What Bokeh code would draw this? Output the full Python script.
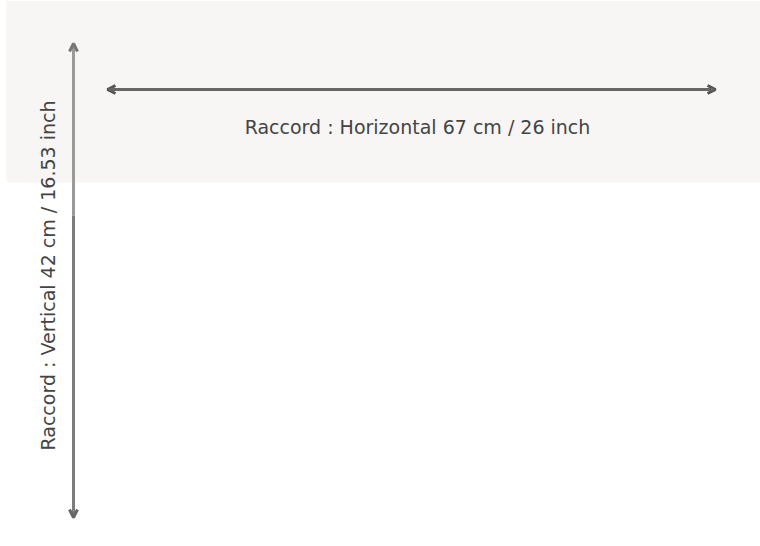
import math
from bokeh.plotting import figure
from bokeh.models import Arrow, OpenHead, Label, Range1d
from bokeh.embed import file_html
from bokeh.resources import INLINE

# Data
labels = ["Raccord : Horizontal 67 cm / 26 inch", "Raccord : Vertical 42 cm / 16.53 inch"]
repeat_cm = [67, 42]
repeat_inch = [26, 16.53]

W, H = 760, 546
p = figure(width=W, height=H, output_backend="svg", toolbar_location=None,
           x_range=Range1d(0, W), y_range=Range1d(H, 0),
           min_border=0, min_border_left=0, min_border_right=0,
           min_border_top=0, min_border_bottom=0)
p.axis.visible = False
p.grid.visible = False
p.outline_line_color = None
p.background_fill_color = "white"
p.border_fill_color = "white"

# light band
p.quad(left=[6], right=[W], top=[0], bottom=[182], fill_color="#f7f6f4", line_color=None)

# horizontal arrow
p.add_layout(Arrow(x_start=107, y_start=89, x_end=715, y_end=89,
                   line_color="#666666", line_width=3,
                   start=OpenHead(size=8, line_color="#555555", line_width=3),
                   end=OpenHead(size=8, line_color="#555555", line_width=3)))
# vertical arrow (two tones)
p.segment(x0=[73], y0=[44], x1=[73], y1=[215], line_color="#9a9a9a", line_width=3)
p.segment(x0=[73], y0=[215], x1=[73], y1=[516], line_color="#7c7c7c", line_width=3)
p.add_layout(Arrow(x_start=73, y_start=60, x_end=73, y_end=43, line_color=None,
                   end=OpenHead(size=8, line_color="#777777", line_width=3)))
p.add_layout(Arrow(x_start=73, y_start=500, x_end=73, y_end=517, line_color=None,
                   end=OpenHead(size=8, line_color="#666666", line_width=3)))

p.add_layout(Label(x=417, y=126, text=labels[0], text_align="center", text_baseline="middle",
                   text_font="DejaVu Sans", text_font_size="19px", text_color="#444444"))
p.add_layout(Label(x=47, y=275, text=labels[1], text_align="center", text_baseline="middle",
                   angle=math.pi / 2, text_font="DejaVu Sans", text_font_size="19px",
                   text_color="#444444"))

open("out.html", "w").write(file_html(p, INLINE))
